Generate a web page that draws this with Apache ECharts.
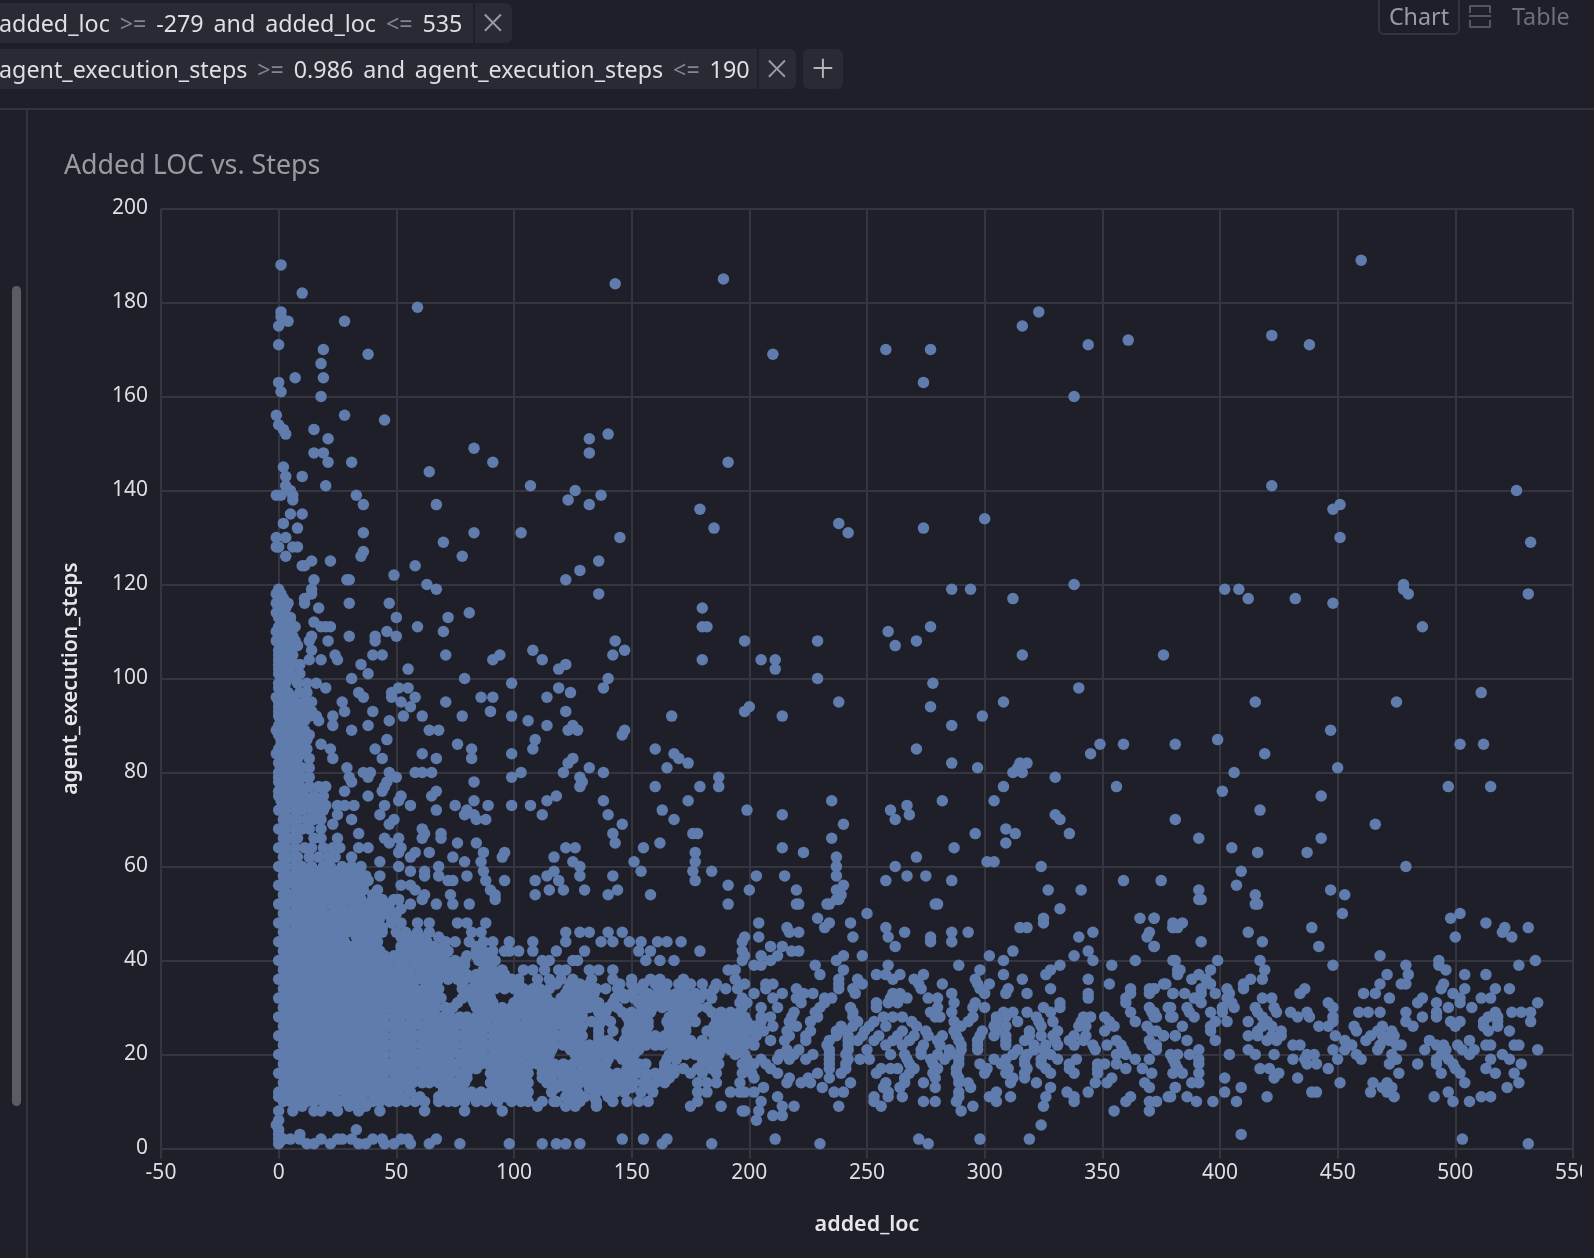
<!DOCTYPE html>
<html>
<head>
<meta charset="utf-8">
<title>Added LOC vs. Steps</title>
<script src="https://cdn.jsdelivr.net/npm/echarts@6/dist/echarts.min.js"></script>
<style>
html,body{margin:0;padding:0;width:1594px;height:1258px;overflow:hidden;background:#1f1f29;font-family:"Noto Sans",sans-serif;}
#mychart{position:absolute;left:0;top:0;width:1582px;height:1258px;}
.abs{position:absolute;box-sizing:border-box;}
.pill{background:#2a2a35;border-radius:0 6px 6px 0;}
.txt{white-space:nowrap;color:#dedee4;font-size:23.3px;line-height:40px;}
.gap{word-spacing:3.8px;}
.op{color:#85858f;}
.sep{background:#1f1f29;width:2px;}
.x{color:#9a9aa3;font-size:40px;line-height:38px;font-weight:300;text-align:center;}
</style>
</head>
<body>
<div id="mychart"></div>
<div class="abs pill" style="left:0;top:3px;width:512px;height:40px"></div>
<div class="abs txt gap" style="left:-1px;top:3px">added_loc <span class="op">&gt;=</span> -279 and added_loc <span class="op">&lt;=</span> 535</div>
<div class="abs sep" style="left:473px;top:3px;height:40px"></div>
<div class="abs x" style="left:478px;top:3px;width:30px">×</div>
<div class="abs pill" style="left:0;top:49px;width:796px;height:40px"></div>
<div class="abs txt gap" style="left:-1px;top:49px">agent_execution_steps <span class="op">&gt;=</span> 0.986 and agent_execution_steps <span class="op">&lt;=</span> 190</div>
<div class="abs sep" style="left:757px;top:49px;height:40px"></div>
<div class="abs x" style="left:762px;top:49px;width:30px">×</div>
<div class="abs pill" style="left:803px;top:49px;width:40px;height:40px;border-radius:6px"></div>
<div class="abs x" style="left:803px;top:49px;width:40px;color:#b5b5bc">+</div>
<div class="abs" style="left:0;top:108px;width:1594px;height:2px;background:#34343f"></div>
<div class="abs" style="left:26px;top:110px;width:2px;height:1148px;background:#34343f"></div>
<div class="abs" style="left:12px;top:286px;width:9px;height:820px;border-radius:5px;background:#5c5c65"></div>
<div class="abs" style="left:1378px;top:-6px;width:82px;height:41px;border:2px solid #34343f;border-radius:6px"></div>
<div class="abs txt" style="left:1378px;top:-4px;width:82px;text-align:center;color:#9a9aa3">Chart</div>
<div class="abs" style="left:1469px;top:5px;width:22px;height:8px;border:2px solid #55555f;border-bottom:0;border-radius:2px 2px 0 0"></div>
<div class="abs" style="left:1469px;top:15px;width:22px;height:2px;background:#55555f"></div>
<div class="abs" style="left:1469px;top:20px;width:22px;height:8px;border:2px solid #55555f;border-top:0;border-radius:0 0 2px 2px"></div>
<div class="abs txt" style="left:1512px;top:-4px;color:#6f6f79">Table</div>
<div class="abs" style="left:64px;top:145px;color:#9a9aa3;font-size:26.8px;line-height:38px;white-space:nowrap">Added LOC vs. Steps</div>
<script>
const xAxisName='added_loc';
const yAxisName='agent_execution_steps';
// each row is [agent_execution_steps, added_loc, added_loc, ...]
const upperRows=[
[189,460],[188,1],[185,189],[184,143],[182,10],[179,59],[178,1,323],[177,1],[176,4,28],[175,0,316],[173,422],[172,361],[171,0,344,438],
[170,19,258,277],[169,38,210],[167,18],[164,7,19],[163,0,274],[161,1],[160,18,338],[156,-1,28],[155,45],[154,0],[153,2,15],[152,3,140],
[151,21,132],[149,83],[148,15,19,132],[146,21,31,91,191],[145,2],[144,64],[143,3,10],[141,3,20,107,422],[140,5,126,526],[139,-1,1,6,33,137],
[138,6,123],[137,36,67,132,451],[136,179,448],[135,5,10],[134,300],[133,2,238],[132,8,185,274],[131,36,83,103,242],[130,-1,3,145,451],
[129,70,532],[128,-1,0,6,8],[127,36],[126,3,35,78],[125,14,22,136],[124,10,11,58],[123,128],[122,49],[121,15,29,30,122],[120,63,338,478],
[119,0,14,67,286,294,402,408,478],[118,-1,1,14,136,480,531],[117,0,2,11,312,412,432],[116,-1,4,11,30,47,448],[115,0,3,17,180],[114,-1,81]
];
const midRows=[
[113,0,2,5,50,72],[112,5,15],[111,0,2,5,7,18,20,22,59,180,182,277,486],[110,-1,4,46,70,259],[109,0,2,6,14,30,41,50],[108,-1,3,5,7,13,21,41,143,198,229,271],
[107,1,5,8,262],[106,0,2,4,14,108,147],[105,0,3,6,24,40,44,71,94,142,316,376],[104,0,2,4,13,18,25,91,112,180,205,211],[103,0,3,5,7,9,35,122],[102,0,3,55,119,211],
[101,0,2,5,9,38],[100,1,3,7,31,79,140,229],[99,0,3,8,12,16,99,278],[98,0,20,51,55,119,138,340],[97,1,4,9,12,34,48,124,511],[96,-1,2,6,36,48,58,86,91,114],
[95,0,3,7,11,14,27,52,71,238,308,415,475],[94,0,3,7,10,12,56,200,277],[93,0,3,7,10,14,28,40,90,122,198],[92,0,2,5,8,13,16,23,53,61,78,99,167,214,299],[91,1,4,8,11,17,47,106],
[90,0,3,7,9,23,38,114,125,286],[89,-1,2,5,7,11,31,64,68,123,127,147,447],[88,0,2,5,8,13,146],[87,1,4,8,12,46,109,399],[86,1,4,8,11,18,76,349,359,381,502,512],
[85,0,3,6,9,12,22,41,82,108,160,271],[84,-1,1,5,7,10,61,99,168,345,419],[83,1,4,8,13,23,44,67,82,125,170],[82,0,2,5,123,174,286,315,318],[81,2,5,8,10,13,29,132,165,297,314,450],
[80,0,3,5,7,36,39,47,58,61,65,103,121,138,312,316,406],[79,0,3,6,10,13,30,38,50,99,128,187,330],[78,31,46,83,129],[77,1,5,9,13,17,20,45,128,160,179,187,308,356,497,515],[76,28,44,67,401],
[75,0,3,7,11,15,19,38,52,65,118,443],[74,51,83,114,138,174,235,282,304],[73,2,5,9,13,16,20,25,28,32,45,56,75,89,99,107,267],[72,67,80,163,199,260,417],[71,25,43,79,83,112,140,214,268,330],
[70,31,49,84,88,168,262,332,381],[69,23,47,146,240,466],[68,18,61,309],[67,34,62,69,142,176,178,296,313,336],[66,25,45,51,61,69,235,391,443],[65,47,76,84,143,162,309],
[64,34,38,52,122,126,155,214,287,405],[63,51,58,64,87,96,177,223,416,437],[62,56,74,95,117,237,271],[61,43,79,86,125,151,177,301,304],[60,51,68,128,237,262,324,479],
[59,56,62,87,117,154,176,184,409],[58,43,62,68,80,114,128,142,203,215,237,267,275],[57,72,74,88,96,109,119,177,258,286,359,375],[56,36,52,56,191,240,407],
[55,58,90,115,121,130,144,200,220,237,327,341,391,447],[54,40,62,73,92,109,140,158,239,415,453],[53,51,61,92,237,391],[52,56,67,74,81,191,220,233,279,415]
];
const coreRows=[
[78,0,3,6],[76,0,3,7,9],[74,1,4,8,11,14,17],[72,0,3,7,10,14,17,19],[70,2,5,8,12,15,18],[68,0,3,7,10,13],[66,2,5,8,15,18],
[64,0,3,7,11,14,19,23,26],[62,2,5,8,13,17,21,24,31],[60,0,3,7,10,14,19,22,27,31,35],[58,2,5,8,12,15,18,24,28,33,37],[56,0,3,7,10,13,17,20,23,27,32],
[54,2,5,8,12,15,19,25,29,34],[52,0,3,7,10,14,17,21,27,32,37,42,44,47],[50,2,5,8,12,15,19,23,29,34,39,45,50],
[48,0,3,7,10,14,17,21,26,30,36,41,48,52,59,64,76,80,88],[46,2,5,8,12,15,19,22,25,29,33,37,44,50,54,59,64,82,86,122,128,132,140,146],
[44,0,3,7,10,14,17,21,24,28,35,38,42,54,58,63,71,75,81,87,91,98,108,122,137,142,149,154,161,165,171,197],
[42,2,5,8,12,15,19,22,26,29,33,36,40,43,52,56,60,64,68,72,84,87,91,96,98,102,108,118,130,153,158,179,197],
[40,0,3,7,10,14,17,21,24,28,31,35,38,42,47,50,54,57,60,64,68,71,75,79,85,88,92,112,115,125,127,156,162,168,197],
[38,2,5,8,12,15,19,22,26,29,33,36,40,43,47,50,54,61,65,69,73,77,87,91,95,104,108,113,119,122,132,136,142,191,194],
[36,0,3,7,10,14,17,21,24,28,31,35,38,42,45,49,53,57,61,65,68,72,76,79,83,87,91,95,99,102,110,115,120,125,133,142,150,158,162,172,194],
[34,2,5,8,12,15,19,22,26,29,33,36,40,43,47,50,54,58,62,66,68,78,82,85,89,92,96,100,104,108,111,115,123,127,131,135,139,144,153,163,171,185,190,195],
[32,0,3,7,10,14,17,21,24,28,31,35,38,42,45,49,52,56,59,63,67,69,78,82,86,90,102,106,110,114,120,124,128,132,143,147,151,155,159,163,167,171,175,179,184,197],
[30,2,5,8,12,15,19,22,26,29,33,36,40,43,47,50,53,57,60,64,67,71,74,84,88,91,95,99,103,106,110,113,117,120,124,128,132,136,140,144,155,159,163,167,170,174,178,182,197],
[28,0,3,7,10,14,17,21,24,28,31,35,38,42,45,49,52,56,59,63,66,70,73,77,80,84,87,91,94,98,101,105,108,112,115,119,122,126,129,137,148,152,156,166,170,173,186,190,194,198],
[26,2,5,8,12,15,19,22,26,29,33,36,40,43,47,50,54,57,61,64,68,72,75,79,82,86,89,93,96,100,103,107,110,114,117,121,125,129,136,149,153,157,166,170,173,185,189,192,196],
[24,0,3,7,10,14,17,21,24,28,31,35,38,42,45,49,52,56,59,63,66,70,73,77,80,84,87,91,94,98,101,105,108,112,115,119,122,126,129,136,148,152,156,160,164,168,172,185,189,193,197],
[22,2,5,8,12,15,19,22,26,29,33,36,40,43,47,50,54,57,61,64,68,72,75,79,82,86,89,93,96,100,103,107,110,114,117,121,125,128,132,135,139,142,146,149,153,156,160,163,167,170,174,177,181,184,188,191,195,198],
[20,0,3,7,10,14,17,21,24,28,31,35,38,42,45,49,52,56,59,63,66,70,73,77,80,84,87,91,94,98,101,105,108,112,115,126,130,133,137,140,144,147,151,166,170,173,177,180,184,187,194,198],
[18,2,5,8,12,15,19,22,26,29,33,36,40,43,47,50,54,57,61,64,68,72,75,79,82,86,89,93,96,100,103,107,110,114,117,121,125,128,132,135,139,149,153,156,164,180,183,187,197],
[16,0,3,7,10,14,17,21,24,28,31,35,38,42,45,49,52,56,59,63,66,70,73,77,80,90,94,98,102,106,112,116,120,124,128,132,136,140,144,148,152,156,160,164,168,175,180,186,197],
[14,2,5,8,12,15,19,22,26,29,33,36,40,43,47,50,54,57,61,64,68,72,75,79,90,94,98,102,106,114,120,124,128,133,138,142,147,151,155,160,164,178,182,186,196],
[12,0,3,7,10,14,17,21,24,28,31,35,38,42,45,49,56,70,74,78,82,86,90,94,98,103,106,116,124,127,135,139,143,147,154,159,178,182,192,196],
[10,2,5,8,12,15,19,22,26,29,33,36,40,43,47,50,54,58,62,68,72,75,79,84,88,93,99,103,106,112,117,118,124,128,135,142,148,153,157,178],
[9,10,22,30,37,110,122,126,135,175,188],[8,0,6,15,18,25,34,43,62,79,95,197],[6,0],[5,-1],[4,0,33],[3,0,9],
[2,0,2,5,9,18,25,27,31,40,44,52,55,67,146,155,165],[1,0,12,15,22,34,37,45,49,56,64,77,98,112,118,122,128,163,184]
];
const fillRows=[
[59,10,13,17,21,25,30,34],[57,4,10,14,18,22,26,30,35,38],[55,10,14,18,22,27,31,36,42],[53,5,10,14,19,23,27,31,35,40,44,49],[51,10,14,18,25,31,35,41,47,52],
[49,5,10,14,19,23,27,32,37,43,48],[47,10,14,18,24,28,32,35,40,44],[45,5,12,17,23,27,33,37,41,52,56,60,68],[43,4,12,17,22,27,31,37,41,52,56,60,66,70,84],
[41,5,12,17,23,27,31,37,41,45,49,54,59,62,66,70,80,84,90],[39,6,12,18,24,31,38,45,52,58,63,67,71,75,79,88],[37,5,12,18,25,32,38,44,47,52,56,60,64,68,72,76,80,84,88,92,96],
[35,6,12,18,25,31,38,46,52,57,63,67,78,84,88,94,98,102,118,124,128,132,145,150,155,160,165,170,175,180,186],[33,5,12,19,25,32,38,44,48,54,60,64,80,84,88,104,108,112,122,126,130,134,146,150,157,161,165,169,173,177,181],
[31,6,12,18,25,31,38,44,48,54,62,66,76,83,87,91,100,104,108,112,116,120,124,128,132,136,142,153,157,161,165,169,173,177,196],
[29,5,12,19,25,32,38,44,50,54,60,66,72,86,90,94,98,102,106,110,114,118,122,126,129,136,139,146,150,154,158,168,172,176,184,188,192,196],
[27,6,12,18,25,31,38,44,50,58,64,70,76,82,88,94,100,106,112,118,124,128,133,137,141,149,153,157,165,169,172,177,186,190,194],[25,5,12,19,25,32,38,44,50,56,62,68,74,80,86,92,98,104,110,116,122,127,136,142,148,152,156,166,170,173,182,186,190,194],
[23,6,12,18,25,31,38,44,50,56,62,68,74,80,86,92,98,104,110,116,122,128,136,140,147,151,156,160,165,170,175,180,185,190,195],[21,5,12,19,25,32,38,44,50,56,62,68,74,80,86,92,98,104,110,116,124,130,136,142,148,153,168,172,176,180,184,188,192,197],
[19,6,12,18,25,31,38,44,50,55,60,66,72,78,84,90,96,102,108,112,128,134,140,146,150,165,169,180,184,186],[17,5,12,19,25,32,38,44,50,56,62,68,74,80,84,92,98,104,112,116,120,124,130,134,138,148,152,164,168,172,178,184],
[15,6,12,18,25,31,38,44,50,55,60,66,72,78,80,92,96,100,104,112,116,122,126,130,135,140,145,150,156,162,166],[13,5,12,19,25,32,38,44,48,52,70,74,78,92,96,100,104,118,122,126,132,137,141,145,150,157],
[11,0,5,11,17,23,29,35,41,47,52,60,68,72,76,80,84,90,96,100,105,122,126,130,134,140]
];
const bandRowsA=[
[53,238],[52,221,234,280],[51,332],[50,250],[49,229,325,366,372],[48,204,234,243,325],[47,216,232,258,315,318,380],[46,217,221,266,286,293,346,370],
[45,198,204,244,259,277,340,369],[44,277,286],[43,209,214,262,372],[42,218,221,312,344],[41,198,205,212,240,248,302,338],[40,209,237,308,346,364,380],
[39,202,205,228,259,289,332,354],[38,240,298,328,382],[37,230,254,258,264,274,308,326],[36,238,246,261,270,296,316,344],[35,198,207,210,238,248,272,282,297,302,353,376],
[34,207,220,238,244,273,298,310,328,362,370,372],[33,202,214,223,227,245,261,264,286,300,309,318,344,362,370,380],[32,210,220,232,235,260,263,267,276,280,344,360],
[31,199,222,232,254,259,263,287,296,332,360],[30,205,212,230,243,254,280,295,300,325,332,370,378],[29,219,228,244,277,286,308,312,318,328,362,371],
[28,205,209,218,229,244,257,261,265,279,281,295,305,309,322,342,345,351,373,380],[27,199,205,217,226,246,253,269,287,293,305,314,323,329,341,353,364],
[26,202,210,220,239,244,251,258,271,290,304,309,324,340,343,355,369],[25,199,206,216,226,237,241,249,265,275,287,299,305,319,331,351,371],
[24,203,217,224,237,242,248,255,263,270,276,282,288,298,304,309,319,324,329,338,343,376,381],[23,199,209,215,224,234,242,246,253,261,268,280,289,297,309,317,330,336,342,356,370],
[22,202,233,242,258,265,274,281,290,297,309,321,326,331,338,346,352,358,371],[21,216,221,234,242,250,273,285,290,297,314,321,325,347,359,373],
[20,213,219,227,234,241,260,266,273,280,285,289,312,318,328,356,360],[19,199,205,212,217,224,234,242,247,251,267,277,283,289,304,309,317,324,331,339,364,370,380],
[18,202,207,234,241,268,278,289,298,307,317,324,336,348,351,356],[17,199,209,234,241,256,260,263,270,280,288,301,310,318,326,336,348,360,367],
[16,201,212,229,239,254,268,278,288,300,309,317,328,338,348,371,380],[15,202,217,225,234,266,279,289,312,317,354],[14,216,222,226,243,258,266,274,289,293,311,322,347,352,368],
[13,206,231,257,264,279,294,328,370,381],[12,198,202,236,240,259,289,305,335,344],[11,212,253,259,265,289,302,311,326,338,362,379],[10,205,253,274,279,288,305,338,360,370,373],
[9,214,219,238,256,295,325],[8,198,204,290,355,370],[7,210,214],[6,203],[5,324],[2,211,272,298,319],[1,230,276]
];
const bandRowsB=[
[53,392],[52,416],[50,452,502],[49,372,498],[48,380,384,513],[47,380,382,439,521,531],[46,412,520],[45,500,524],[44,392,418],[43,372,442],[41,468],
[40,381,399,417,493,534],[39,448,479,493,527],[38,383,396,419,496],[37,382,391,471,480,504,513],[36,388,394,413,418],[35,377,396,410,468,477,479,495],
[34,372,392,403,410,436,494,504,517,523],[33,380,385,392,398,404,434,461,466,499],[32,389,403,418,422,472,486,502,511,515],[31,392,405,446,484,492,502,535],
[30,379,386,401,406,415,423,448,497,507],[29,372,387,396,401,416,424,430,437,459,463,468,479,492,517,524,528,532],[28,372,379,389,418,433,438,448,486,492,514,518],
[27,398,403,412,420,448,479,498,502,512,518,532],[26,384,396,418,422,442,446,457,469,482,500,512,518],[25,373,396,416,426,458,467,473,514,523],
[24,376,381,412,416,422,426,449,464,469,474],[23,386,398,420,424,453,462,472,489,506],[22,373,431,434,456,468,475,477,492,495,501,513,515,525,527],
[21,391,412,448,453,467,487,496,503,508,535],[20,379,382,387,404,415,423,437,440,458,473,494,506,520],[19,391,431,436,450,460,475,492,497,515,523],
[18,381,391,437,441,472,484,492,499,528],[17,382,417,421,446,500,513],[16,384,391,425,476,494,502,517,525],[15,402,423,433],[14,388,391,451,465,471,504,527],
[13,381,409,469,473,522],[12,402,439,441,464,471,497],[11,378,386,420,474,491,511,515],[10,373,390,397,407,499,506],[3,409],[2,503],[1,531]
];
const xMin=-50,xMax=550,xStep=50;
const yMin=0,yMax=200,yStep=20;

const allRows=[].concat(upperRows,midRows,coreRows,fillRows,bandRowsA,bandRowsB);
const points=[];
allRows.forEach(function(row){
    for(var i=1;i<row.length;i++){
        points.push([row[i],row[0]]);
    }
});

var myChart=echarts.init(document.getElementById('mychart'),null,{renderer:'canvas'});
const gridColor='#35353f';
myChart.setOption({
    animation:false,
    backgroundColor:'transparent',
    grid:{left:161,right:9,top:208.5,bottom:109.5,containLabel:false,outerBoundsMode:'none'},
    tooltip:{},
    xAxis:{
        type:'value',min:xMin,max:xMax,interval:xStep,
        name:xAxisName,nameLocation:'middle',nameGap:65,
        nameTextStyle:{color:'#e6e6ea',fontSize:21.5,fontWeight:600,fontFamily:'Noto Sans'},
        axisLine:{show:true,onZero:false,lineStyle:{color:gridColor,width:2}},
        axisTick:{show:true,length:10,lineStyle:{color:gridColor,width:2}},
        axisLabel:{color:'#dedee4',fontSize:21,margin:14,fontFamily:'Noto Sans',hideOverlap:false,showMinLabel:true,showMaxLabel:true},
        splitLine:{show:true,lineStyle:{color:gridColor,width:2}}
    },
    yAxis:{
        type:'value',min:yMin,max:yMax,interval:yStep,
        name:yAxisName,nameLocation:'middle',nameGap:79,
        nameTextStyle:{color:'#e6e6ea',fontSize:21,fontWeight:600,fontFamily:'Noto Sans'},
        axisLine:{show:true,lineStyle:{color:gridColor,width:2}},
        axisTick:{show:true,length:10,lineStyle:{color:gridColor,width:2}},
        axisLabel:{color:'#dedee4',fontSize:21,margin:13,padding:[2,0,0,0],fontFamily:'Noto Sans',showMinLabel:true,showMaxLabel:true},
        splitLine:{show:true,lineStyle:{color:gridColor,width:2}}
    },
    series:[{
        type:'scatter',
        data:points,
        symbol:'circle',
        symbolSize:11.5,
        clip:false,
        itemStyle:{color:'#5f7cad',opacity:1}
    }]
});
</script>
</body>
</html>
